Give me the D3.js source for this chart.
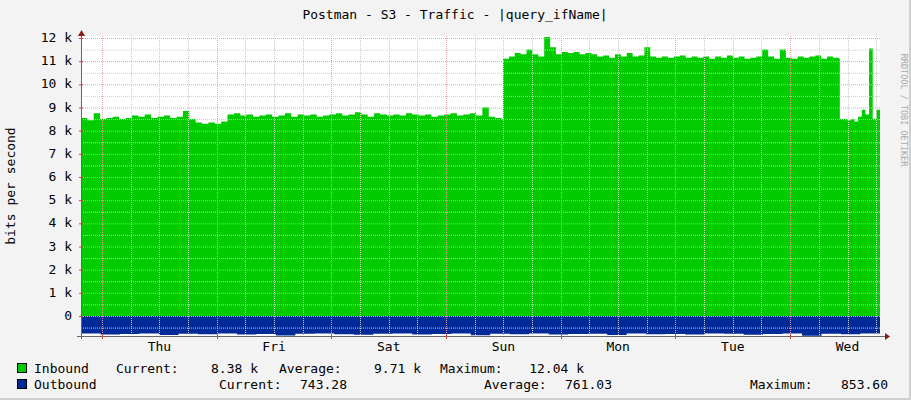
<!DOCTYPE html>
<html><head><meta charset="utf-8">
<script src="https://cdn.jsdelivr.net/npm/d3@7"></script>
<style>body{margin:0;background:#f3f3f3}svg{display:block}</style>
</head><body><svg id="c" width="911" height="400"></svg>
<script>
// hours since chart start (total span ~167.2 h)
const dayLabels = ["Thu","Fri","Sat","Sun","Mon","Tue","Wed"];
const yTicks = [0,1,2,3,4,5,6,7,8,9,10,11,12];
// inbound (k bits/s), three segments with start/end hours
const inboundA = [8.55,8.45,8.75,8.5,8.55,8.6,8.5,8.55,8.65,8.6,8.7,8.55,8.6,8.65,8.55,8.6,8.85,8.5,
  8.35,8.3,8.35,8.3,8.4,
  8.7,8.75,8.65,8.7,8.6,8.65,8.7,8.6,8.65,8.75,8.6,8.7,8.65,8.7,8.6,8.65,8.7,8.75,8.65,8.7,8.8,8.7,8.6,8.75,8.7,8.65,8.7,8.65,8.75,8.7,8.65,8.7,8.6,8.65,8.7,8.75,8.65,8.7,8.75,8.65,9.0,8.6,8.55,8.5];
const inboundB = [11.1,11.2,11.35,11.3,11.5,11.3,11.2,12.04,11.6,11.3,11.4,11.35,11.4,11.3,11.35,11.3,11.2,11.25,11.15,11.3,11.2,11.35,11.2,11.25,11.6,11.2,11.15,11.2,11.15,11.2,11.25,11.15,11.2,11.15,11.2,11.1,11.2,11.15,11.25,11.15,11.2,11.1,11.15,11.2,11.5,11.2,11.1,11.5,11.15,11.1,11.2,11.15,11.2,11.25,11.1,11.2,11.15,11.1];
const inboundC = [8.5,8.5,8.45,8.5,8.4,8.6,8.9,8.7,11.55,8.5,8.9,8.4];
const segHours = [[0,88.0],[88.3,158.6],[158.8,167.2]];
const outbound = [0.76,0.8,0.78,0.76,0.82,0.77,0.79,0.76,0.8,0.78,0.84,0.77,0.76,0.79,0.81,0.77,0.76,0.8,0.78,0.76,0.83,0.77,0.79,0.76,0.8,0.78,0.77,0.82,0.76,0.79,0.78,0.8,0.76,0.77,0.81,0.78,0.76,0.85,0.77,0.79,0.76,0.74];

const svg = d3.select("#c");
const L=81,R=880,T=36,B=336;
const x = d3.scaleLinear().domain([0,167.2]).range([L,R]);
const y = d3.scaleLinear().domain([0,12]).range([316,38]);
const mono = "DejaVu Sans Mono, monospace";
svg.append("rect").attr("width",911).attr("height",400).attr("fill","#f3f3f3");
svg.append("rect").attr("x",909).attr("width",2).attr("height",400).attr("fill","#cfcfcf");
svg.append("rect").attr("y",398).attr("width",911).attr("height",2).attr("fill","#cfcfcf");
svg.append("rect").attr("x",L).attr("y",T).attr("width",R-L).attr("height",B-T).attr("fill","#fff");

function pts(arr,h0,h1){const n=arr.length;return arr.map((v,i)=>[h0+(h1-h0)*i/(n-1),v]);}
const inbound = [].concat(pts(inboundA,...segHours[0]),pts(inboundB,...segHours[1]),pts(inboundC,...segHours[2]));
const area = d3.area().curve(d3.curveStepAfter).x(d=>x(d[0])).y0(y(0)).y1(d=>y(d[1]));
svg.append("path").datum(inbound).attr("d",area).attr("fill","#00cc00");
const outPts = pts(outbound,0,167.2).map(d=>[d[0],-d[1]]);
svg.append("path").datum(outPts).attr("d",area).attr("fill","#002a97");

// grid
const g = svg.append("g");
const minorY = d3.range(-0.5,12.01,0.5).filter(v=>v%1!==0);
minorY.forEach(v=>g.append("line").attr("x1",L).attr("x2",R).attr("y1",y(v)+0.5).attr("y2",y(v)+0.5).attr("stroke","#ccc").attr("stroke-dasharray","1,1"));
yTicks.forEach(v=>g.append("line").attr("x1",L).attr("x2",R).attr("y1",y(v)+0.5).attr("y2",y(v)+0.5).attr("stroke","#e9a0a0").attr("stroke-dasharray","1,1"));
const midnights = d3.range(0,7).map(i=>4.4+24*i);
const minorX = d3.range(-2,28).map(i=>4.4+6*i).filter(h=>h>0&&h<167.2&&!midnights.includes(h));
minorX.forEach(h=>g.append("line").attr("x1",Math.round(x(h))+0.5).attr("x2",Math.round(x(h))+0.5).attr("y1",T).attr("y2",B).attr("stroke","#ccc").attr("stroke-dasharray","1,1"));
midnights.forEach(h=>g.append("line").attr("x1",Math.round(x(h))+0.5).attr("x2",Math.round(x(h))+0.5).attr("y1",T).attr("y2",B).attr("stroke","#e9a0a0").attr("stroke-dasharray","1,1"));

// axes
svg.append("line").attr("x1",L+0.5).attr("x2",L+0.5).attr("y1",32).attr("y2",B+3).attr("stroke","#666");
svg.append("line").attr("x1",L-4).attr("x2",R+5).attr("y1",B+0.5).attr("y2",B+0.5).attr("stroke","#666");
svg.append("path").attr("d",`M${L-3},36L${L+0.5},30L${L+4},36Z`).attr("fill","#8b1a1a");
svg.append("path").attr("d",`M${R+5},${B-3}L${R+10},${B+0.5}L${R+5},${B+4}Z`).attr("fill","#8b1a1a");
yTicks.forEach(v=>{
  svg.append("line").attr("x1",L-2).attr("x2",L+2).attr("y1",y(v)+0.5).attr("y2",y(v)+0.5).attr("stroke","#c44");
  svg.append("text").attr("x",72).attr("y",y(v)+4).attr("text-anchor","end").attr("font-family",mono).attr("font-size",13).text(v===0?"0":v+" k");
});
midnights.forEach(h=>svg.append("line").attr("x1",Math.round(x(h))+0.5).attr("x2",Math.round(x(h))+0.5).attr("y1",B-2).attr("y2",B+3).attr("stroke","#c44"));
dayLabels.forEach((d,i)=>svg.append("text").attr("x",x(16.4+24*i)).attr("y",351).attr("text-anchor","middle").attr("font-family",mono).attr("font-size",13).text(d));

svg.append("text").attr("x",455).attr("y",19).attr("text-anchor","middle").attr("font-family",mono).attr("font-size",13).text("Postman - S3 - Traffic - |query_ifName|");
svg.append("text").attr("transform","translate(15,186) rotate(-90)").attr("text-anchor","middle").attr("font-family",mono).attr("font-size",13).text("bits per second");
svg.append("text").attr("transform","translate(901,110) rotate(90)").attr("text-anchor","middle").attr("font-family",mono).attr("font-size",8.5).attr("fill","#aaa").text("RRDTOOL / TOBI OETIKER");

// legend
const legend = [
  {c:"#00cc00",name:"Inbound",items:[["Current:",116,"8.38 k",258],["Average:",279,"9.71 k",421],["Maximum:",440,"12.04 k",584]],y:373},
  {c:"#002a97",name:"Outbound",items:[["Current:",219,"743.28",347],["Average:",484,"761.03",612],["Maximum:",750,"853.60",888]],y:389}
];
legend.forEach(l=>{
  svg.append("rect").attr("x",17.5).attr("y",l.y-9.5).attr("width",9).attr("height",9).attr("fill",l.c).attr("stroke","#000");
  svg.append("text").attr("x",34).attr("y",l.y).attr("font-family",mono).attr("font-size",13).text(l.name);
  l.items.forEach(it=>{
    svg.append("text").attr("x",it[1]).attr("y",l.y).attr("font-family",mono).attr("font-size",13).text(it[0]);
    svg.append("text").attr("x",it[3]).attr("y",l.y).attr("text-anchor","end").attr("font-family",mono).attr("font-size",13).text(it[2]);
  });
});
</script></body></html>
